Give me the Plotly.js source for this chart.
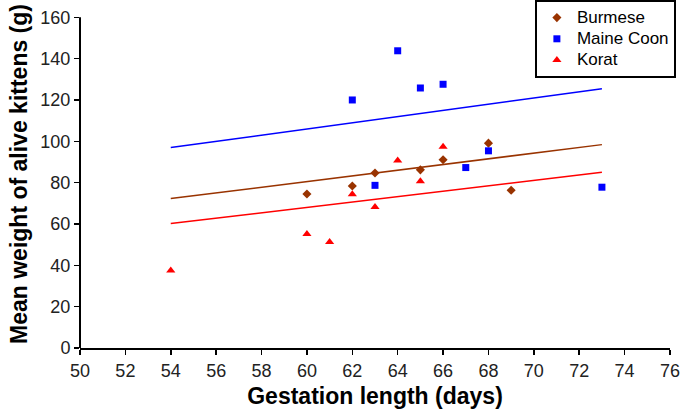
<!DOCTYPE html>
<html><head><meta charset="utf-8">
<script src="https://cdn.plot.ly/plotly-3.0.1.min.js"></script>
<style>html,body{margin:0;padding:0;background:#fff}#chart{width:682px;height:418px}</style>
</head><body><div id="chart"></div>
<script>
const burmeseX = [60, 62, 63, 65, 66, 68, 69];
const burmeseY = [74.5, 78.4, 84.7, 86.2, 91.1, 99.1, 76.3];
const maineX = [62, 63, 64, 65, 66, 67, 68, 73];
const maineY = [120, 78.7, 143.8, 125.8, 127.6, 87.3, 95.4, 77.8];
const koratX = [54, 60, 61, 62, 63, 64, 65, 66];
const koratY = [37.5, 55.2, 51.3, 74.4, 68.2, 90.7, 80.7, 97.4];
const fitX = [54, 73];
const burmeseFit = [72.3, 98.4];
const maineFit = [97.0, 125.4];
const koratFit = [60.2, 85.0];
const seriesNames = ['Burmese', 'Maine Coon', 'Korat'];
const xTicks = [50,52,54,56,58,60,62,64,66,68,70,72,74,76];
const yTicks = [0,20,40,60,80,100,120,140,160];

const font = "Arial, 'Liberation Sans', sans-serif";
const lbl = s => '<span style="font-size:17px">' + s + '</span>';
const traces = [
  {x: fitX, y: maineFit, mode: 'lines', line: {color: '#0000ff', width: 1.5}, showlegend: false, hoverinfo: 'skip'},
  {x: fitX, y: burmeseFit, mode: 'lines', line: {color: '#993300', width: 1.5}, showlegend: false, hoverinfo: 'skip'},
  {x: fitX, y: koratFit, mode: 'lines', line: {color: '#ff0000', width: 1.5}, showlegend: false, hoverinfo: 'skip'},
  {x: burmeseX, y: burmeseY, mode: 'markers', name: lbl(seriesNames[0]), marker: {symbol: 'diamond', size: 7, color: '#993300'}},
  {x: maineX, y: maineY, mode: 'markers', name: lbl(seriesNames[1]), marker: {symbol: 'square', size: 7, color: '#0000ff'}},
  {x: koratX, y: koratY, mode: 'markers', name: lbl(seriesNames[2]), marker: {symbol: 'triangle-up', size: 8, color: '#ff0000'}}
];
const yMax = yTicks[yTicks.length - 1];
const layout = {
  width: 682, height: 418,
  margin: {l: 80, r: 12, t: 0, b: 70},
  paper_bgcolor: '#fff', plot_bgcolor: '#fff',
  font: {family: font, size: 18, color: '#222'},
  xaxis: {range: [50, 76], tickvals: xTicks, showgrid: false, zeroline: false,
    showline: true, linecolor: '#000', linewidth: 2, ticks: 'outside', ticklen: 5, tickwidth: 1.5, tickcolor: '#000',
    tickfont: {size: 18, color: '#222'}, automargin: false,
    title: {text: 'Gestation length (days)', font: {size: 23, color: '#000', weight: 'bold'}, standoff: 8}},
  yaxis: {range: [0, 168.37], tickvals: yTicks, showgrid: false, zeroline: false,
    showline: false, ticks: 'outside', ticklen: 5, tickwidth: 1.5, tickcolor: '#000',
    tickfont: {size: 18, color: '#222'}, automargin: false,
    title: {text: 'Mean weight of alive kittens (g)', font: {size: 23, color: '#000', weight: 'bold'}, standoff: 6}},
  shapes: [{type: 'line', xref: 'paper', yref: 'y', x0: 0, x1: 0, y0: 0, y1: yMax, line: {color: '#000', width: 2}}],
  legend: {x: 0.771, y: 1, xanchor: 'left', yanchor: 'top',
    bordercolor: '#000', borderwidth: 2, bgcolor: '#fff', font: {size: 14, color: '#000'},
    tracegroupgap: 0, itemwidth: 30},
  showlegend: true
};
Plotly.newPlot('chart', traces, layout, {displayModeBar: false, staticPlot: true});
</script></body></html>
